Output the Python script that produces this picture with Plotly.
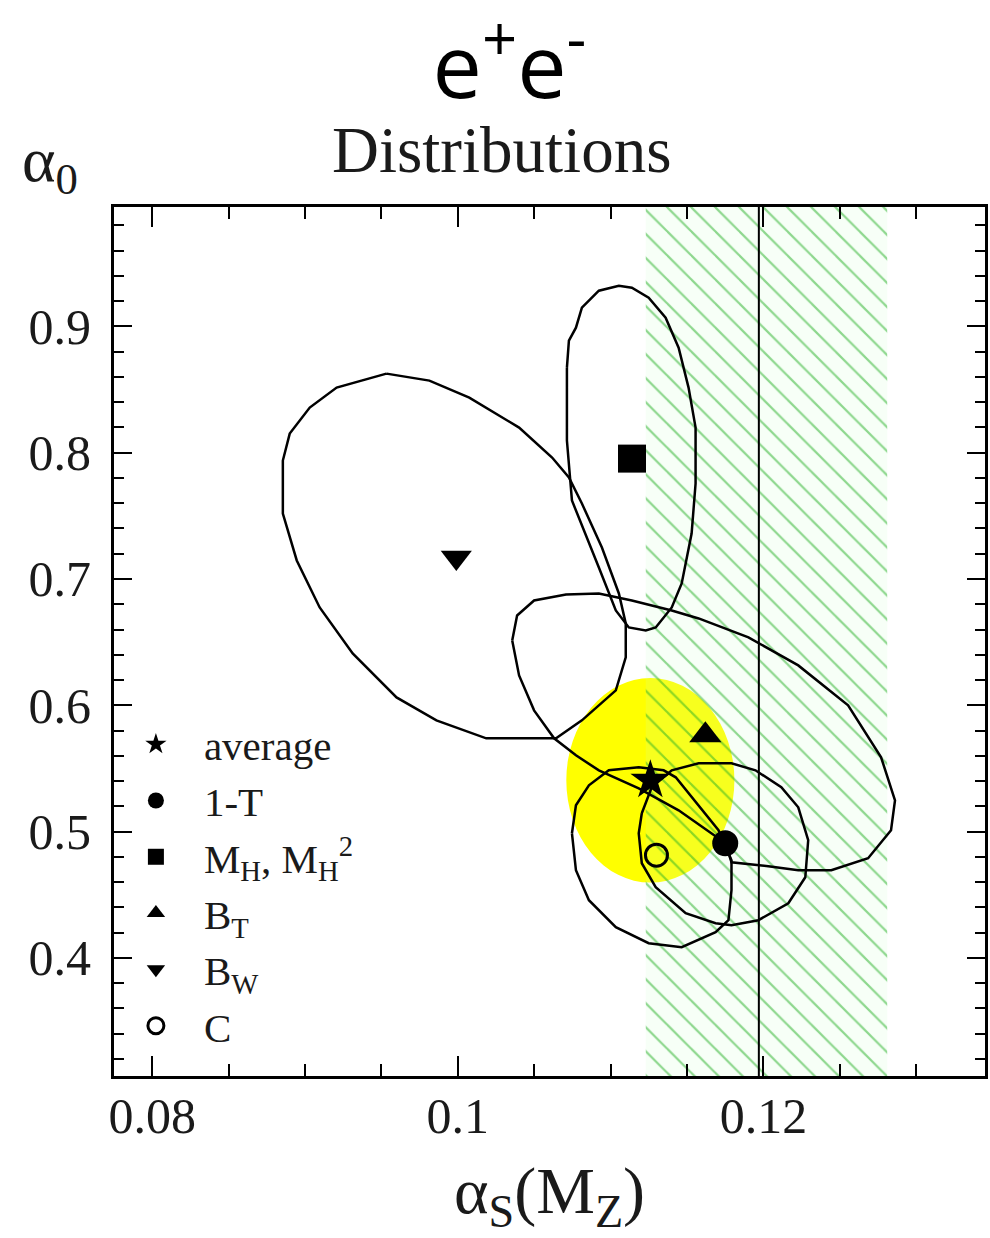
import plotly.graph_objects as go

# ---------------- data ----------------
X_TICKS = [0.08, 0.10, 0.12]
X_TICK_LABELS = ["0.08", "0.1", "0.12"]
Y_TICKS = [0.4, 0.5, 0.6, 0.7, 0.8, 0.9]
Y_TICK_LABELS = ["0.4", "0.5", "0.6", "0.7", "0.8", "0.9"]
X_RANGE = [0.0775, 0.1345]
Y_RANGE = [0.3065, 0.9945]

OBS_NAMES = ["average", "1-T", "M<sub>H</sub>, M<sub>H</sub><sup>2</sup>",
             "B<sub>T</sub>", "B<sub>W</sub>", "C"]
OBS_ALPHA_S = [0.1126, 0.1175, 0.1114, 0.1162, 0.0999, 0.1130]
OBS_ALPHA_0 = [0.5406, 0.4908, 0.7953, 0.5762, 0.7170, 0.4813]

# average: uncertainty (yellow region)
AVG_ERR_S = 0.0055
AVG_ERR_0 = 0.081

# world average alpha_s and its band
WORLD_ALPHA_S = 0.1197
BAND_LO = 0.1123
BAND_HI = 0.1281

# contours (alpha_s, alpha_0)
BW_S = [0.09533, 0.09814, 0.10075, 0.10401, 0.10617, 0.10727, 0.10812, 0.10943, 0.11054,
        0.11099, 0.11099, 0.11034, 0.10812, 0.10643, 0.10186, 0.09860, 0.09599, 0.09312,
        0.09096, 0.08946, 0.08855, 0.08855, 0.08900, 0.09031, 0.09207, 0.09533]
BW_0 = [0.86258, 0.85704, 0.84359, 0.81986, 0.79613, 0.78031, 0.75974, 0.72493, 0.68854,
        0.66481, 0.63791, 0.61180, 0.58807, 0.57383, 0.57383, 0.58807, 0.60626, 0.64107,
        0.67746, 0.71465, 0.75183, 0.79376, 0.81512, 0.83568, 0.85151, 0.86258]

MH_S = [0.10714, 0.10727, 0.10773, 0.10812, 0.10923, 0.11054, 0.11139, 0.11249, 0.11360,
        0.11445, 0.11510, 0.11556, 0.11556, 0.11530, 0.11465, 0.11400, 0.11295, 0.11230,
        0.11119, 0.11034, 0.10923, 0.10793, 0.10747, 0.10714, 0.10714]
MH_0 = [0.86733, 0.88869, 0.89897, 0.91479, 0.92824, 0.93220, 0.93062, 0.92270, 0.90688,
        0.88315, 0.85151, 0.81986, 0.77556, 0.73600, 0.69645, 0.67746, 0.66164, 0.65927,
        0.66164, 0.67509, 0.70911, 0.74866, 0.76211, 0.80958, 0.86733]

BT_S = [0.10356, 0.10388, 0.10499, 0.10708, 0.10923, 0.11139, 0.11400, 0.11576, 0.11902,
        0.12228, 0.12554, 0.12770, 0.12861, 0.12835, 0.12685, 0.12444, 0.12228, 0.12032,
        0.11791, 0.11752, 0.11445, 0.11184, 0.10923, 0.10773, 0.10630, 0.10499, 0.10401,
        0.10356]
BT_0 = [0.65136, 0.67113, 0.68300, 0.68775, 0.68854, 0.68300, 0.67509, 0.66876, 0.65373,
        0.63158, 0.59994, 0.55880, 0.52478, 0.50105, 0.47890, 0.46940, 0.46940, 0.47257,
        0.47573, 0.49076, 0.51687, 0.53428, 0.54851, 0.56038, 0.57383, 0.59598, 0.62367,
        0.65136]

T_S = [0.11204, 0.11184, 0.11204, 0.11295, 0.11491, 0.11687, 0.11791, 0.11967, 0.12163,
       0.12274, 0.12293, 0.12228, 0.12117, 0.11948, 0.11791, 0.11576, 0.11400, 0.11269,
       0.11204]
T_0 = [0.51450, 0.49867, 0.47494, 0.45595, 0.43539, 0.42748, 0.42589, 0.42985, 0.44329,
       0.46387, 0.49314, 0.51924, 0.53507, 0.54851, 0.55405, 0.55405, 0.54851, 0.53507,
       0.51450]

C_S = [0.10747, 0.10773, 0.10858, 0.10988, 0.11184, 0.11347, 0.11426, 0.11706, 0.11791,
       0.11791, 0.11771, 0.11687, 0.11465, 0.11249, 0.11034, 0.10858, 0.10773, 0.10747]
C_0 = [0.49867, 0.52082, 0.53666, 0.54851, 0.55089, 0.54851, 0.54297, 0.50105, 0.47732,
       0.45358, 0.42985, 0.42034, 0.40849, 0.41165, 0.42431, 0.44567, 0.46940, 0.49867]

CONTOURS = [(BW_S, BW_0), (MH_S, MH_0), (BT_S, BT_0), (T_S, T_0), (C_S, C_0)]

# ---------------- styles ----------------
SERIF = "Liberation Serif"
SYMBOLS = ["star", "circle", "square", "triangle-up", "triangle-down", "circle-open"]
SIZES = [30, 26, 28, 28, 27, 22]

fig = go.Figure()

# yellow average region
fig.add_shape(type="circle", xref="x", yref="y", layer="below",
              x0=OBS_ALPHA_S[0] - AVG_ERR_S, x1=OBS_ALPHA_S[0] + AVG_ERR_S,
              y0=OBS_ALPHA_0[0] - AVG_ERR_0, y1=OBS_ALPHA_0[0] + AVG_ERR_0,
              fillcolor="#ffff00", line=dict(width=0))

# hatched world-average band
fig.add_trace(go.Scatter(
    x=[BAND_LO, BAND_HI, BAND_HI, BAND_LO, BAND_LO],
    y=[Y_RANGE[0], Y_RANGE[0], Y_RANGE[1], Y_RANGE[1], Y_RANGE[0]],
    mode="lines", fill="toself", line=dict(width=0, color="rgba(0,0,0,0)"),
    fillcolor="rgba(0,0,0,0)",
    fillpattern=dict(shape="\\", size=17, solidity=0.13, fgcolor="#25b025",
                     bgcolor="rgba(200,255,200,0.15)"),
    showlegend=False, hoverinfo="skip"))

for cs, c0 in CONTOURS:
    fig.add_trace(go.Scatter(x=cs, y=c0, mode="lines",
                             line=dict(color="black", width=2.5),
                             showlegend=False, hoverinfo="skip"))

fig.add_vline(x=WORLD_ALPHA_S, line=dict(color="black", width=2))

for name, xs, ys, sym, sz in zip(OBS_NAMES, OBS_ALPHA_S, OBS_ALPHA_0, SYMBOLS, SIZES):
    fig.add_trace(go.Scatter(
        x=[xs], y=[ys], mode="markers", name=name,
        marker=dict(symbol=sym, size=sz, color="black",
                    line=dict(color="black", width=3 if sym.endswith("open") else 0))))

axis_common = dict(showline=True, linewidth=3, linecolor="black", mirror="ticks",
                   ticks="inside", tickwidth=2, tickcolor="black", showgrid=False,
                   zeroline=False, tickfont=dict(family=SERIF, size=50, color="#1a1a1a"))

fig.update_xaxes(range=X_RANGE, tickmode="array", tickvals=X_TICKS, ticktext=X_TICK_LABELS,
                 ticklen=20, ticklabelstandoff=-6,
                 minor=dict(tickmode="linear", tick0=0.08, dtick=0.005, ticklen=12,
                            tickwidth=2, tickcolor="black", ticks="inside"),
                 title=dict(text="α<sub>S</sub>(M<sub>Z</sub>)",
                            font=dict(family=SERIF, size=66, color="#1a1a1a"), standoff=24),
                 **axis_common)
fig.update_yaxes(range=Y_RANGE, tickmode="array", tickvals=Y_TICKS, ticktext=Y_TICK_LABELS,
                 ticklen=18, ticklabelstandoff=10,
                 minor=dict(tickmode="linear", tick0=0.3, dtick=0.02, ticklen=10,
                            tickwidth=2, tickcolor="black", ticks="inside"),
                 **axis_common)

fig.add_annotation(text="α<sub>0</sub>", xref="paper", yref="paper", x=-0.073, y=1.05,
                   showarrow=False, xanchor="center", yanchor="middle",
                   font=dict(family=SERIF, size=64, color="#1a1a1a"))
fig.add_annotation(text="Distributions", xref="paper", yref="paper", x=0.445, y=1.066,
                   showarrow=False, xanchor="center", yanchor="middle",
                   font=dict(family=SERIF, size=65, color="#1a1a1a"))

fig.update_layout(
    width=990, height=1238,
    margin=dict(l=114, r=2, t=207, b=162),
    paper_bgcolor="white", plot_bgcolor="white",
    title=dict(text="e<sup>+</sup>e<sup>-</sup>", x=0.454, xref="paper", xanchor="center",
               y=0.946, yref="container", yanchor="middle",
               font=dict(family="Open Sans", size=88, color="black")),
    legend=dict(x=-0.007, y=0.42, xanchor="left", yanchor="top",
                bgcolor="rgba(0,0,0,0)", borderwidth=0,
                font=dict(family=SERIF, size=41, color="#1a1a1a"),
                itemsizing="trace", itemwidth=86),
    showlegend=True,
)

fig.write_html("out.html")
